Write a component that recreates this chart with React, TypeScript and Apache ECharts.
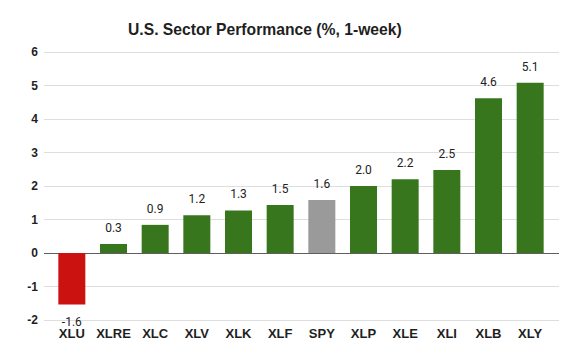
import React, { useEffect, useRef } from "react";
import * as echarts from "echarts";

const categories = ["XLU", "XLRE", "XLC", "XLV", "XLK", "XLF", "SPY", "XLP", "XLE", "XLI", "XLB", "XLY"];
const values = [-1.54, 0.27, 0.84, 1.13, 1.27, 1.43, 1.58, 2.0, 2.2, 2.48, 4.62, 5.08];
const valueLabels = ["-1.6", "0.3", "0.9", "1.2", "1.3", "1.5", "1.6", "2.0", "2.2", "2.5", "4.6", "5.1"];
const yTicks = [-2, -1, 0, 1, 2, 3, 4, 5, 6];
const benchmark = "SPY";

const GREEN = "#38761d";
const RED = "#cc1111";
const GRAY = "#9a9a9a";

export default function App() {
  const ref = useRef<HTMLDivElement>(null);
  useEffect(() => {
    if (!ref.current) return;
    const chart = echarts.init(ref.current, null, { renderer: "svg" });
    const yMin = yTicks[0];
    const yMax = yTicks[yTicks.length - 1];
    const splitColors = yTicks.map((t) => (t === 0 ? "#5f5f5f" : "#dedede"));
    chart.setOption({
      animation: false,
      backgroundColor: "#ffffff",
      title: {
        text: "U.S. Sector Performance (%, 1-week)",
        left: 123,
        top: 16,
        textStyle: { fontFamily: "Arial, 'Liberation Sans', sans-serif", fontSize: 15.7, fontWeight: "bold", color: "#1f1f1f" },
      },
      grid: [
        { left: 44, right: 16, top: 52, height: 268 },
        { left: 51, right: 24, top: 52, height: 268 },
      ],
      xAxis: [
        { type: "value", gridIndex: 0, show: false, min: 0, max: 1 },
        {
          type: "category",
          gridIndex: 1,
          data: categories,
          axisLine: { show: false },
          axisTick: { show: false },
          axisLabel: {
            margin: 7,
            fontFamily: "Arial, 'Liberation Sans', sans-serif",
            fontSize: 13,
            fontWeight: "bold",
            color: "#1f1f1f",
            interval: 0,
          },
        },
      ],
      yAxis: [
        {
          type: "value",
          gridIndex: 0,
          min: yMin,
          max: yMax,
          interval: 1,
          axisLine: { show: false },
          axisTick: { show: false },
          axisLabel: {
            margin: 6,
            fontFamily: "Arial, 'Liberation Sans', sans-serif",
            fontSize: 12,
            fontWeight: "bold",
            color: "#1f1f1f",
          },
          splitLine: { show: true, lineStyle: { color: splitColors, width: 1 } },
        },
        { type: "value", gridIndex: 1, min: yMin, max: yMax, interval: 1, show: false, splitLine: { show: false } },
      ],
      series: [
        {
          type: "bar",
          xAxisIndex: 1,
          yAxisIndex: 1,
          barWidth: 27,
          data: values.map((v, i) => ({
            value: v,
            itemStyle: { color: v < 0 ? RED : categories[i] === benchmark ? GRAY : GREEN },
            label: { position: v < 0 ? "bottom" : "top", distance: v < 0 ? 11 : 10 },
          })),
          label: {
            show: true,
            distance: 10,
            fontFamily: "Roboto, Arial, sans-serif",
            fontSize: 12,
            color: "#222222",
            formatter: (p: any) => valueLabels[p.dataIndex],
          },
        },
      ],
    });
    return () => chart.dispose();
  }, []);
  return <div ref={ref} style={{ position: "fixed", left: 0, top: 0, width: 575, height: 354 }} />;
}
